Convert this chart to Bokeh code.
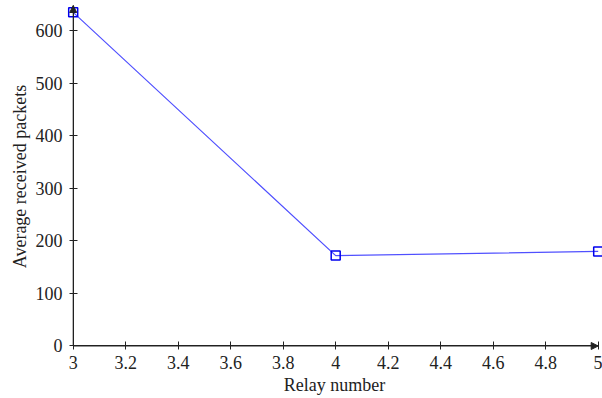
from bokeh.plotting import figure
from bokeh.models import Range1d, FixedTicker, Arrow, NormalHead, LinearAxis
from bokeh.embed import file_html
from bokeh.resources import INLINE

relays = [3, 4, 5]
packets = [635, 172, 180]
x_ticks = [3.0, 3.2, 3.4, 3.6, 3.8, 4.0, 4.2, 4.4, 4.6, 4.8, 5.0]
x_tick_labels = ["3", "3.2", "3.4", "3.6", "3.8", "4", "4.2", "4.4", "4.6", "4.8", "5"]
y_ticks = [0, 100, 200, 300, 400, 500, 600]
x_min, x_max = 3, 5
y_min, y_max = 0, 648
x_title = "Relay number"
y_title = "Average received packets"

FONT = "Liberation Serif"
INK = "#222222"

p = figure(width=602, height=398, output_backend="svg", toolbar_location=None,
           x_range=Range1d(2.9745, 5.0164), y_range=Range1d(-12.4, 657.5),
           min_border_left=66, min_border_right=0, min_border_top=0, min_border_bottom=46)
p.grid.visible = False
p.outline_line_color = None

# label-only axes in the side panels
for ax in (p.xaxis[0], p.yaxis[0]):
    ax.major_label_text_font = FONT
    ax.major_label_text_font_size = "18px"
    ax.major_label_text_color = INK
    ax.axis_label_text_font = FONT
    ax.axis_label_text_font_size = "18px"
    ax.axis_label_text_font_style = "normal"
    ax.axis_label_text_color = INK
    ax.axis_line_color = None
    ax.major_tick_line_color = None
    ax.minor_tick_line_color = None
    ax.major_tick_in = 0
    ax.major_tick_out = 0

p.xaxis.major_label_standoff = 3
p.xaxis.axis_label_standoff = 3
p.yaxis.major_label_standoff = 4
p.yaxis.axis_label_standoff = 3
p.xaxis.ticker = FixedTicker(ticks=x_ticks)
p.xaxis.major_label_overrides = {t: l for t, l in zip(x_ticks, x_tick_labels)}
p.yaxis.ticker = FixedTicker(ticks=y_ticks)
p.xaxis.axis_label = x_title
p.yaxis.axis_label = y_title

# axis lines and ticks placed at the data origin
for loc, ticks, bounds, fixed in (("below", x_ticks, (x_min, x_max), y_min),
                                  ("left", y_ticks, (y_min, y_max), x_min)):
    a = LinearAxis(ticker=FixedTicker(ticks=ticks), bounds=bounds, fixed_location=fixed,
                   axis_line_color=INK, major_tick_line_color=INK,
                   minor_tick_line_color=None, major_tick_in=4, major_tick_out=4,
                   major_label_text_color=None, major_label_text_font_size="1px")
    p.add_layout(a, loc)

p.add_layout(Arrow(end=NormalHead(size=7, fill_color=INK, line_color=INK),
                   x_start=x_min, y_start=y_min, x_end=x_max, y_end=y_min,
                   line_color=INK, line_width=1))
p.add_layout(Arrow(end=NormalHead(size=7, fill_color=INK, line_color=INK),
                   x_start=x_min, y_start=y_min, x_end=x_min, y_end=y_max,
                   line_color=INK, line_width=1))

p.line(relays, packets, line_color="#5050ff", line_width=1.2)
p.scatter(relays, packets, marker="square", size=9, fill_color=None,
          line_color="#0000ee", line_width=1.5)

open("out.html", "w").write(file_html(p, INLINE))
